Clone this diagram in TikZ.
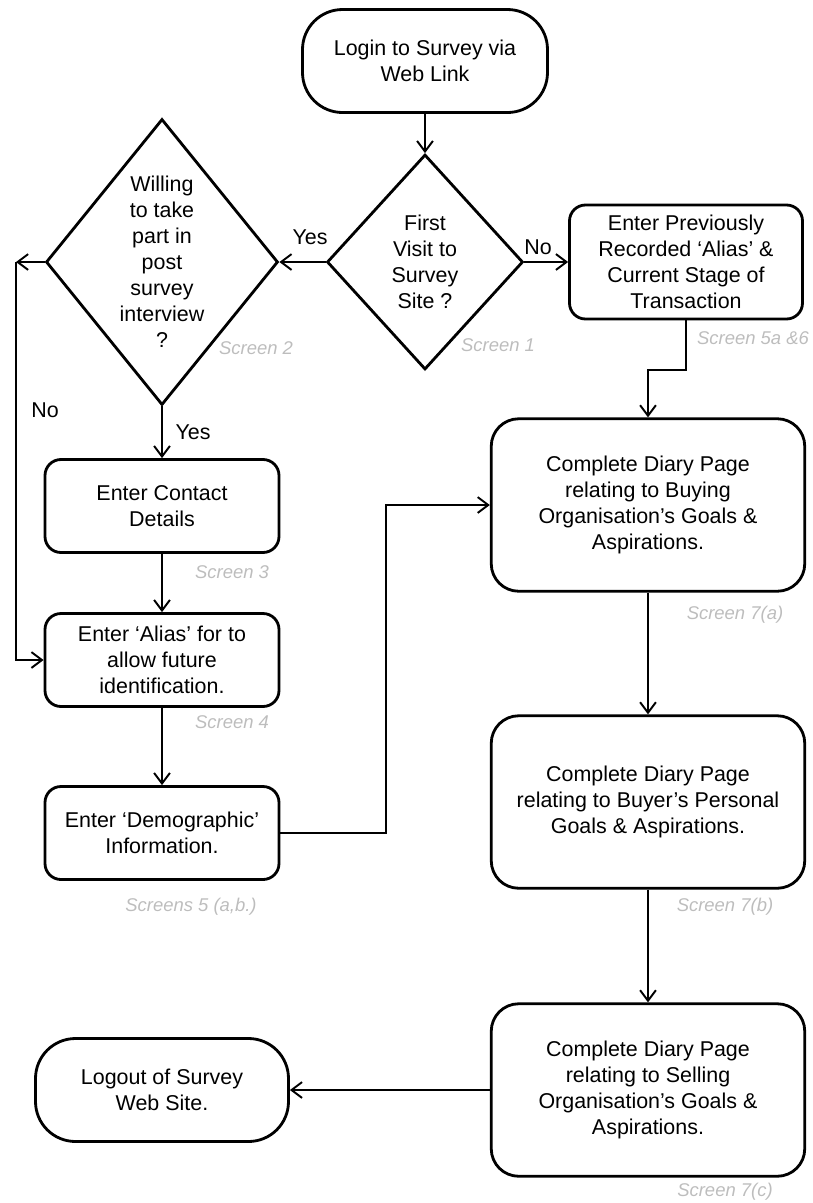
\documentclass[tikz,border=0pt]{standalone}
\usepackage{fontspec}
\setmainfont{Liberation Sans}
\usetikzlibrary{shapes.geometric, arrows.meta, positioning}
\definecolor{screengray}{HTML}{BDBDBD}

\begin{document}
\begin{tikzpicture}[
  every node/.style={font=\fontsize{12.2}{14.8}\selectfont},
  box/.style={draw, line width=1.6pt, rounded corners=0.32cm, align=center, inner sep=0pt},
  smallbox/.style={box, minimum width=4.68cm, minimum height=1.86cm},
  bigbox/.style={box, rounded corners=0.55cm, minimum width=6.27cm, minimum height=3.45cm},
  terminal/.style={box, rounded corners=0.8cm, minimum height=2.06cm},
  decision/.style={draw, diamond, line width=1.6pt, inner sep=0pt},
  qtext/.style={align=center},
  screen/.style={font=\fontsize{10.5}{12}\selectfont\itshape, text=screengray},
  flow/.style={line width=1.1pt, -{Straight Barb[length=6pt, width=9pt]}}
]
  \useasboundingbox (0,0) rectangle (16.26,-24.06);

  % Entry and first decision
  \node[terminal, minimum width=4.9cm] (login) at (8.5,-1.22) {Login to Survey via\\Web Link};
  \node[decision, minimum width=3.92cm, minimum height=4.3cm,
        label={[qtext]center:{First\\Visit to\\Survey\\Site ?}}] (visit) at (8.5,-5.24) {};
  \node[decision, minimum width=4.64cm, minimum height=5.72cm,
        label={[qtext]center:{Willing\\to take\\part in\\post\\survey\\interview\\?}}] (willing) at (3.24,-5.24) {};
  \node[box, minimum width=4.66cm, minimum height=2.28cm] (recall) at (13.72,-5.24)
    {Enter Previously\\Recorded `Alias' \&\\Current Stage of\\Transaction};

  % Left column
  \node[smallbox] (contact) at (3.24,-10.12) {Enter Contact\\Details};
  \node[smallbox] (alias) at (3.24,-13.2) {Enter `Alias' for to\\allow future\\identification.};
  \node[smallbox] (demog) at (3.24,-16.66) {Enter `Demographic'\\Information.};
  \node[terminal, minimum width=5.06cm] (logout) at (3.24,-21.8) {Logout of Survey\\Web Site.};

  % Right column
  \node[bigbox] (goalsA) at (12.96,-10.1)
    {Complete Diary Page\\relating to Buying\\Organisation's Goals \&\\Aspirations.};
  \node[bigbox] (goalsB) at (12.96,-16.04)
    {Complete Diary Page\\relating to Buyer's Personal\\Goals \& Aspirations.};
  \node[bigbox] (goalsC) at (12.96,-21.8)
    {Complete Diary Page\\relating to Selling\\Organisation's Goals \&\\Aspirations.};

  % Screen numbers
  \node[screen] (s1) at (9.96,-6.9) {Screen 1};
  \node[screen] (s2) at (5.12,-6.96) {Screen 2};
  \node[screen] (s56) at (15.06,-6.76) {Screen 5a \&6};
  \node[screen] (s3) at (4.64,-11.44) {Screen 3};
  \node[screen] (s4) at (4.64,-14.44) {Screen 4};
  \node[screen] (s5) at (3.82,-18.14) {Screens 5 (a,b.)};
  \node[screen] (s7a) at (14.7,-12.3) {Screen 7(a)};
  \node[screen] (s7b) at (14.5,-18.14) {Screen 7(b)};
  \node[screen] (s7c) at (14.5,-23.84) {Screen 7(c)};

  % Answers
  \node (yes1) at (6.2,-4.74) {Yes};
  \node (no1) at (10.76,-4.94) {No};
  \node (no2) at (0.9,-8.2) {No};
  \node (yes2) at (3.86,-8.64) {Yes};

  % Connectors
  \coordinate (skip) at (0.32,-5.24);
  \draw[flow] (login) -- (visit);
  \draw[flow] (visit.west) -- (willing.east);
  \draw[flow] (visit.east) -- (recall.west);
  \draw[flow] (willing.west) -- (skip);
  \draw[flow] (skip) |- (alias.west);
  \draw[flow] (willing.south) -- (contact.north);
  \draw[flow] (contact) -- (alias);
  \draw[flow] (alias) -- (demog);
  \draw[flow] (demog.east) -- ++(2.12,0) |- (goalsA.west);
  \draw[flow] (recall.south) -- ++(0,-1.0) -| (goalsA.north);
  \draw[flow] (goalsA) -- (goalsB);
  \draw[flow] (goalsB) -- (goalsC);
  \draw[flow] (goalsC) -- (logout);
\end{tikzpicture}
\end{document}
